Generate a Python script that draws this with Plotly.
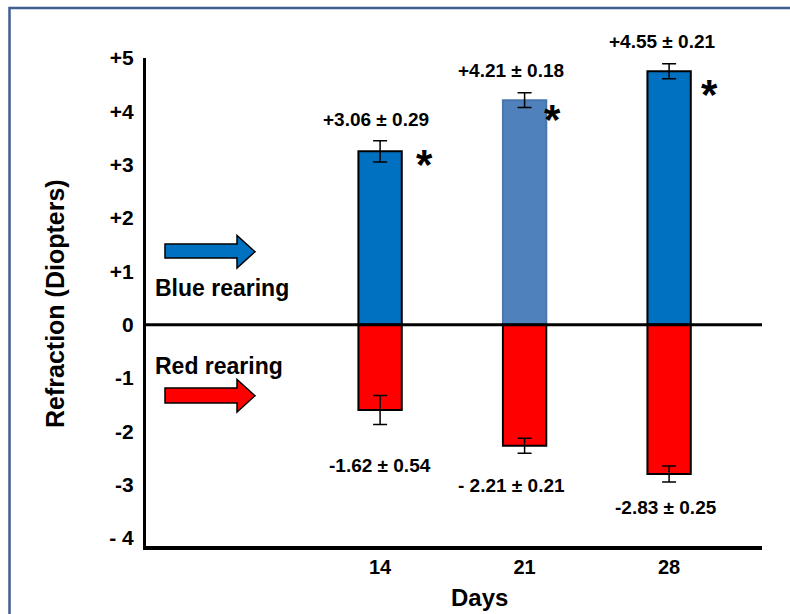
import plotly.graph_objects as go

days = [14, 21, 28]
blue_vals = [3.25, 4.21, 4.75]
blue_err = [0.2, 0.14, 0.14]
red_vals = [-1.6, -2.27, -2.8]
red_err = [0.27, 0.14, 0.15]
blue_labels = ["+3.06 ± 0.29", "+4.21 ± 0.18", "+4.55 ± 0.21"]
red_labels = ["-1.62 ± 0.54", "- 2.21 ± 0.21", "-2.83 ± 0.25"]
y_ticks = [-4, -3, -2, -1, 0, 1, 2, 3, 4, 5]
y_ticktext = ["- 4", "-3", "-2", "-1", "0", "+1", "+2", "+3", "+4", "+5"]
blue_colors = ["#0070C0", "#4F81BD", "#0070C0"]
blue_lines = ["#000000", "#4A76AE", "#000000"]

W, H = 790, 614
L, R, T, B = 146, 28, 58, 68
PW, PH = W - L - R, H - T - B


def px(x):
    return (x - L) / PW


def py(y):
    return (H - B - y) / PH


FONT = "Liberation Sans, Arial, sans-serif"

fig = go.Figure()
fig.add_trace(go.Bar(
    x=days, y=blue_vals, width=2.1,
    marker=dict(color=blue_colors, line=dict(color=blue_lines, width=2)),
    error_y=dict(type="data", array=blue_err, color="black", thickness=1.5, width=7),
    showlegend=False,
))
fig.add_trace(go.Bar(
    x=days, y=red_vals, width=2.1,
    marker=dict(color="#FF0000", line=dict(color="black", width=2)),
    error_y=dict(type="data", array=red_err, color="black", thickness=1.5, width=7),
    showlegend=False,
))

fig.update_layout(
    width=W, height=H, barmode="overlay",
    margin=dict(l=L, r=R, t=T, b=B),
    paper_bgcolor="white", plot_bgcolor="white",
    font=dict(family=FONT, color="black"),
    xaxis=dict(range=[2.66, 32.5], tickvals=days, ticktext=[str(d) for d in days],
               showline=True, linecolor="black", linewidth=4, showgrid=False,
               zeroline=False, ticks="", ticklabelstandoff=0,
               tickfont=dict(size=20, weight="bold", family=FONT)),
    yaxis=dict(range=[-4.15, 5], tickvals=y_ticks, ticktext=y_ticktext,
               showline=True, linecolor="black", linewidth=3, showgrid=False,
               zeroline=False, ticks="", ticklabelstandoff=5,
               tickfont=dict(size=21, weight="bold", family=FONT)),
)

# zero line
fig.add_shape(type="line", xref="paper", yref="y", x0=0, x1=1, y0=0, y1=0,
              line=dict(color="black", width=3), layer="above")

# frame border
fig.add_shape(type="rect", xref="paper", yref="paper",
              x0=px(9.5), x1=px(800), y0=py(8), y1=py(630),
              line=dict(color="#3F5F8F", width=2.5), layer="below")


def arrow(y0, y1, hy0, hy1, color):
    pts = [(165, y0), (237, y0), (237, hy0), (255, (hy0 + hy1) / 2), (237, hy1), (237, y1), (165, y1)]
    path = "M " + " L ".join(f"{px(a):.5f},{py(b):.5f}" for a, b in pts) + " Z"
    fig.add_shape(type="path", xref="paper", yref="paper", path=path,
                  fillcolor=color, line=dict(color="black", width=1.5))


arrow(244, 258, 235.5, 268, "#0070C0")
arrow(388, 403, 379.5, 412, "#FF0000")

ann_font = dict(family=FONT, size=19, weight="bold", color="black")
blue_text_pos = [(376, 120), (511, 70), (662, 42)]
red_text_pos = [(380, 465), (511, 485), (666, 507)]
star_pos = [(424, 164), (552, 119), (709, 95)]
for txt, (x, y) in zip(blue_labels, blue_text_pos):
    fig.add_annotation(text=txt, xref="paper", yref="paper", x=px(x), y=py(y),
                       showarrow=False, font=ann_font, xanchor="center", yanchor="middle")
for txt, (x, y) in zip(red_labels, red_text_pos):
    fig.add_annotation(text=txt, xref="paper", yref="paper", x=px(x), y=py(y),
                       showarrow=False, font=ann_font, xanchor="center", yanchor="middle")
for (x, y) in star_pos:
    fig.add_annotation(text="*", xref="paper", yref="paper", x=px(x), y=py(y),
                       showarrow=False, font=dict(family=FONT, size=42, weight="bold"),
                       xanchor="center", yanchor="middle")

fig.add_annotation(text="Blue rearing", xref="paper", yref="paper", x=px(153), y=py(288),
                   showarrow=False, xanchor="left", yanchor="middle",
                   font=dict(family=FONT, size=23, weight="bold"))
fig.add_annotation(text="Red rearing", xref="paper", yref="paper", x=px(153), y=py(366),
                   showarrow=False, xanchor="left", yanchor="middle",
                   font=dict(family=FONT, size=23, weight="bold"))
fig.add_annotation(text="Refraction (Diopters)", xref="paper", yref="paper", x=px(55), y=py(304),
                   showarrow=False, textangle=-90, xanchor="center", yanchor="middle",
                   font=dict(family=FONT, size=25, weight="bold"))
fig.add_annotation(text="Days", xref="paper", yref="paper", x=px(479), y=py(597),
                   showarrow=False, xanchor="center", yanchor="middle",
                   font=dict(family=FONT, size=24, weight="bold"))

fig.write_html("out.html", config={"displayModeBar": False},
               post_script="document.body.style.margin='0';document.body.style.padding='0';")
